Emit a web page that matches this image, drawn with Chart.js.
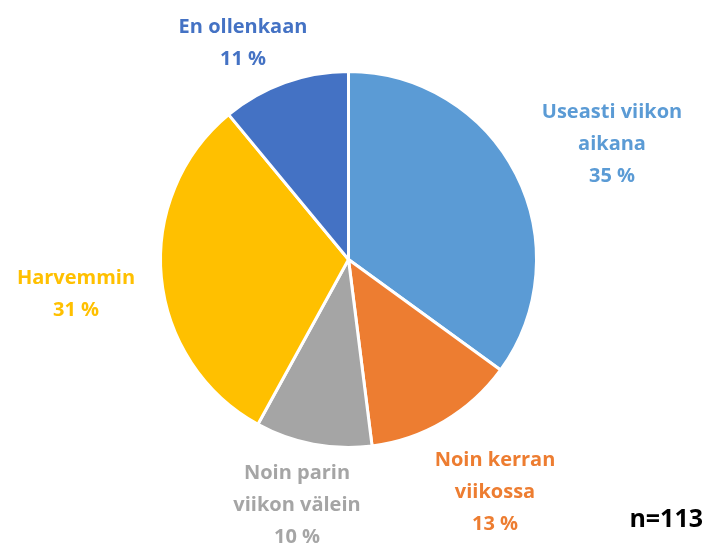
<!DOCTYPE html>
<html>
<head>
<meta charset="utf-8">
<script src="https://cdn.jsdelivr.net/npm/chart.js@4/dist/chart.umd.min.js"></script>
<style>
  html, body { margin: 0; padding: 0; background: #fff; }
  canvas { display: block; }
</style>
</head>
<body>
<canvas id="usage-chart" width="706" height="545"></canvas>
<script>
// Data
const categories = ['Useasti viikon aikana', 'Noin kerran viikossa', 'Noin parin viikon välein', 'Harvemmin', 'En ollenkaan'];
const shares = [35, 13, 10, 31, 11];
const sliceColors = ['#5B9BD5', '#ED7D31', '#A5A5A5', '#FFC000', '#4472C4'];
// label text split into lines, as in the original
const labelLines = [
  ['Useasti viikon', 'aikana'],
  ['Noin kerran', 'viikossa'],
  ['Noin parin', 'viikon välein'],
  ['Harvemmin'],
  ['En ollenkaan']
];
const sampleNote = 'n=113';

// where each label block sits (center x, first line y)
const labelSpots = [
  { x: 612, y: 112 },
  { x: 495, y: 460 },
  { x: 297, y: 473 },
  { x: 76, y: 278 },
  { x: 243, y: 27 }
];

const labelFont = 'bold 20px "Open Sans", Lato, sans-serif';
const lineGap = 32;

const outsideLabels = {
  id: 'outsideLabels',
  afterDraw(chart) {
    const ctx = chart.ctx;
    ctx.save();
    ctx.textAlign = 'center';
    ctx.textBaseline = 'middle';
    ctx.font = labelFont;
    const values = chart.data.datasets[0].data;
    const total = values.reduce((a, b) => a + b, 0);
    values.forEach((v, i) => {
      const spot = labelSpots[i];
      const lines = labelLines[i].concat([Math.round(v / total * 100) + ' %']);
      ctx.fillStyle = sliceColors[i];
      lines.forEach((line, j) => {
        ctx.fillText(line, spot.x, spot.y + j * lineGap);
      });
    });
    ctx.fillStyle = '#000';
    ctx.font = 'bold 25px "Open Sans", Lato, sans-serif';
    ctx.textAlign = 'right';
    ctx.fillText(sampleNote, 703, 520);
    ctx.restore();
  }
};

const ctx = document.getElementById('usage-chart').getContext('2d');
new Chart(ctx, {
  type: 'pie',
  data: {
    labels: categories,
    datasets: [{
      data: shares,
      backgroundColor: sliceColors,
      borderColor: '#ffffff',
      borderWidth: 3
    }]
  },
  options: {
    responsive: false,
    animation: false,
    layout: {
      padding: { top: 70, bottom: 96, left: 158, right: 167 }
    },
    plugins: {
      legend: { display: false },
      tooltip: { enabled: false }
    }
  },
  plugins: [outsideLabels]
});
</script>
</body>
</html>
